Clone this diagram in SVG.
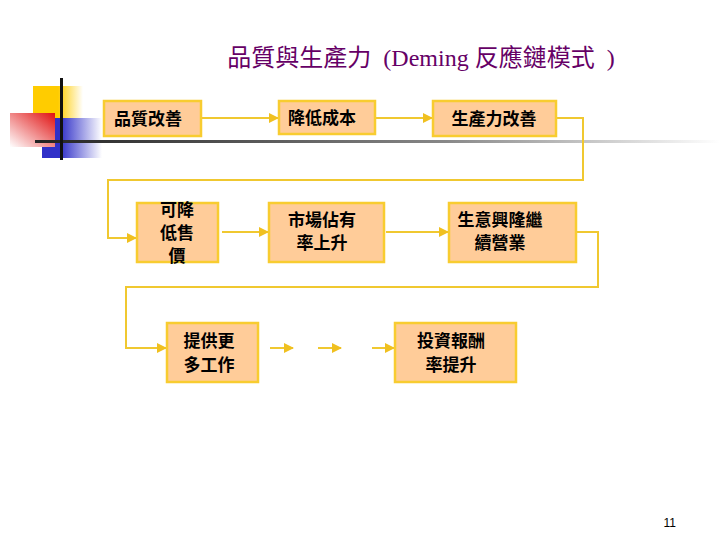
<svg xmlns="http://www.w3.org/2000/svg" width="720" height="540" viewBox="0 0 720 540">
<defs>
<style>
.b{fill:#FFCC99;stroke:#F8CC30;stroke-width:2.5}
.t{font-family:"Liberation Sans","Noto Sans CJK TC",sans-serif;font-size:17px;font-weight:bold;fill:#000;text-anchor:middle}
.c{fill:none;stroke:#F0C830;stroke-width:2;marker-end:url(#a)}
</style>
<marker id="a" viewBox="0 0 10 10" refX="9" refY="5" markerWidth="5" markerHeight="5" orient="auto"><path d="M0,0L10,5L0,10z" fill="#F0C020"/></marker>
<linearGradient id="hl" x1="0" x2="1"><stop offset="0" stop-color="#222"/><stop offset="0.6" stop-color="#888"/><stop offset="1" stop-color="#fff"/></linearGradient>
<linearGradient id="bl" x1="0" x2="1"><stop offset="0.3" stop-color="#3030C8"/><stop offset="1" stop-color="#fff"/></linearGradient>
<linearGradient id="yl" x1="0" x2="1"><stop offset="0.5" stop-color="#FFCC00"/><stop offset="1" stop-color="#fff"/></linearGradient>
<linearGradient id="rd" x1="1" x2="0" y1="0" y2="1"><stop offset="0" stop-color="#E01010"/><stop offset="1" stop-color="#fff"/></linearGradient>
</defs>
<g id="deco">
<rect x="33" y="86" width="50" height="36" fill="url(#yl)"/>
<rect x="42" y="118" width="60" height="40" fill="url(#bl)"/>
<rect x="10" y="113" width="45" height="34" fill="url(#rd)"/>
<rect x="35" y="140" width="685" height="3" fill="url(#hl)"/>
<rect x="60" y="78" width="3" height="82" fill="#111"/>
</g>
<text x="421" y="66" font-family="'Liberation Serif','Noto Sans CJK TC',serif" font-size="24" fill="#660066" text-anchor="middle" xml:space="preserve">品質與生產力  (Deming 反應鏈模式  )</text>
<g id="connectors">
<line class="c" x1="202" y1="118" x2="278" y2="118"/>
<line class="c" x1="376" y1="118" x2="432" y2="118"/>
<path class="c" d="M557,118H583V180H108V238H136"/>
<line class="c" x1="222" y1="232" x2="268" y2="232"/>
<line class="c" x1="386" y1="232" x2="448" y2="232"/>
<path class="c" d="M577,232H598V287H126V348H166"/>
<line class="c" x1="270" y1="348" x2="293" y2="348"/>
<line class="c" x1="318" y1="348" x2="341" y2="348"/>
<line class="c" x1="372" y1="348" x2="394" y2="348"/>
</g>
<g id="n1"><rect class="b" x="104" y="101" width="97" height="35"/><text class="t" x="148" y="125">品質改善</text></g>
<g id="n2"><rect class="b" x="279" y="101" width="96" height="33"/><text class="t" x="322" y="124">降低成本</text></g>
<g id="n3"><rect class="b" x="433" y="101" width="123" height="35"/><text class="t" x="494" y="125">生產力改善</text></g>
<g id="n4"><rect class="b" x="137" y="203" width="81" height="59"/><text class="t" x="177" y="216">可降</text><text class="t" x="177" y="239">低售</text><text class="t" x="177" y="262">價</text></g>
<g id="n5"><rect class="b" x="269" y="203" width="115" height="59"/><text class="t" x="322" y="226">市場佔有</text><text class="t" x="322" y="249">率上升</text></g>
<g id="n6"><rect class="b" x="449" y="203" width="127" height="59"/><text class="t" x="500" y="226">生意興隆繼</text><text class="t" x="500" y="249">續營業</text></g>
<g id="n7"><rect class="b" x="167" y="323" width="91" height="59"/><text class="t" x="209" y="347">提供更</text><text class="t" x="209" y="371">多工作</text></g>
<g id="n8"><rect class="b" x="395" y="323" width="121" height="59"/><text class="t" x="451" y="347">投資報酬</text><text class="t" x="451" y="371">率提升</text></g>
<text x="676" y="527" font-family="'Liberation Sans',sans-serif" font-size="12" fill="#000" text-anchor="end">11</text>
</svg>
